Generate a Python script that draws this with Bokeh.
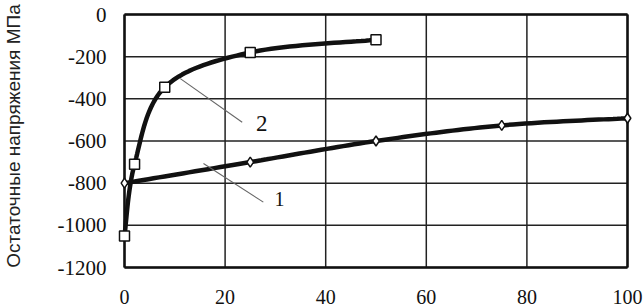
import numpy as np
from bokeh.plotting import figure
from bokeh.models import Range1d, Label, ColumnDataSource
from bokeh.embed import file_html
from bokeh.resources import INLINE

# ---- data ----
x1 = [0, 25, 50, 75, 100]
y1 = [-800, -700, -600, -526, -492]
x2 = [0, 2, 8, 25, 50]
y2 = [-1050, -710, -345, -180, -120]
x_ticks = [0, 20, 40, 60, 80, 100]
y_ticks = [-1200, -1000, -800, -600, -400, -200, 0]
y_title = "Остаточные напряжения МПа"
curve_labels = ["1", "2"]

SERIF = "Liberation Serif"
SANS = "Liberation Sans"

# canvas = frame; plot box placed inside it via the ranges
W, H = 643, 308
box_left, box_right, box_top, box_bottom = 124, 627, 14, 267   # pixel placement of the data box
x0, x100 = x_ticks[0], x_ticks[-1]
ylo, yhi = y_ticks[0], y_ticks[-1]
ux = (box_right - box_left) / (x100 - x0)
uy = (box_bottom - box_top) / (yhi - ylo)
xr = (x0 - box_left / ux, x100 + (W - box_right) / ux)
yr = (ylo - (H - box_bottom) / uy, yhi + box_top / uy)


def smooth(xs, ys, n=24):
    # Catmull-Rom (Excel-like) smoothing computed in screen-proportional space
    P = np.column_stack([np.asarray(xs, float) * ux, np.asarray(ys, float) * uy])
    P = np.vstack([P[0], P, P[-1]])
    out = []
    for i in range(1, len(P) - 2):
        p0, p1, p2, p3 = P[i - 1], P[i], P[i + 1], P[i + 2]
        c1 = p1 + (p2 - p0) / 6.0
        c2 = p2 - (p3 - p1) / 6.0
        t = np.linspace(0, 1, n)[:, None]
        seg = ((1 - t) ** 3) * p1 + 3 * ((1 - t) ** 2) * t * c1 + 3 * (1 - t) * t * t * c2 + (t ** 3) * p2
        out.append(seg if i == 1 else seg[1:])
    out = np.vstack(out)
    return out[:, 0] / ux, out[:, 1] / uy


p = figure(width=W, height=H, output_backend="svg", toolbar_location=None,
           x_range=Range1d(*xr), y_range=Range1d(*yr),
           min_border_left=0, min_border_right=0, min_border_top=0, min_border_bottom=0)
p.background_fill_color = "white"
p.border_fill_color = "white"
p.outline_line_color = None
p.xaxis.visible = False
p.yaxis.visible = False
p.xgrid.visible = False
p.ygrid.visible = False

# grid lines
p.segment(x0=x_ticks, y0=[ylo] * len(x_ticks), x1=x_ticks, y1=[yhi] * len(x_ticks),
          line_color="#222222", line_width=1.5)
p.segment(x0=[x0] * len(y_ticks), y0=y_ticks, x1=[x100] * len(y_ticks), y1=y_ticks,
          line_color="#222222", line_width=1.5)
# frame border (thicker)
p.segment(x0=[x0, x100, x0, x0], y0=[ylo, ylo, ylo, yhi],
          x1=[x0, x100, x100, x100], y1=[yhi, yhi, ylo, yhi],
          line_color="#111111", line_width=2.5)

# tick labels
for v in x_ticks:
    p.add_layout(Label(x=v, y=ylo, y_offset=-22, text=str(v), text_font=SERIF,
                       text_font_size="20px", text_color="#111111",
                       text_align="center", text_baseline="top"))
for v in y_ticks:
    p.add_layout(Label(x=x0, y=v, x_offset=-18, text=str(v), text_font=SERIF,
                       text_font_size="21px", text_color="#111111",
                       text_align="right", text_baseline="middle"))

# y-axis title
p.add_layout(Label(x=x0, y=(ylo + yhi) / 2, x_offset=-111, y_offset=5, text=y_title,
                   angle=np.pi / 2, text_font=SANS, text_font_size="19px",
                   text_color="#222222", text_align="center", text_baseline="middle"))

# curves
sx1, sy1 = smooth(x1, y1)
sx2, sy2 = smooth(x2, y2)
p.line(sx1, sy1, line_color="#111111", line_width=4.5)
p.line(sx2, sy2, line_color="#111111", line_width=4.5)
p.scatter(x1, y1, marker="diamond", size=10, fill_color="white", line_color="#111111", line_width=1.5)
p.scatter(x2, y2, marker="square", size=10, fill_color="white", line_color="#111111", line_width=1.5)

# leader lines and curve numbers
lead = ColumnDataSource(dict(x0=[15.7, 11.1], y0=[-707, -304], x1=[27.6, 23.4], y1=[-890, -511]))
p.segment(x0="x0", y0="y0", x1="x1", y1="y1", source=lead, line_color="#666666", line_width=1.1)
p.add_layout(Label(x=30.8, y=-875, text=curve_labels[0], text_font=SERIF,
                   text_font_size="20px", text_color="#111111",
                   text_align="center", text_baseline="middle"))
p.add_layout(Label(x=27.3, y=-519, text=curve_labels[1], text_font=SERIF,
                   text_font_size="23px", text_color="#111111",
                   text_align="center", text_baseline="middle"))

open("out.html", "w").write(file_html(p, INLINE))
